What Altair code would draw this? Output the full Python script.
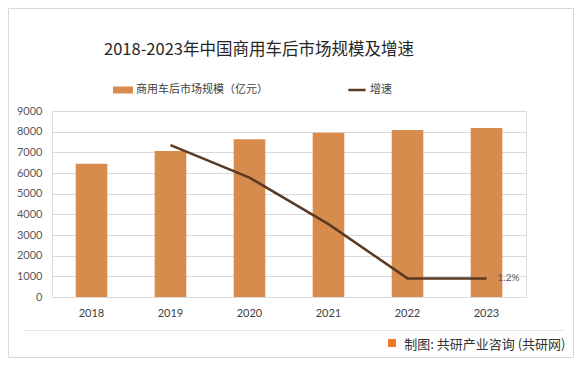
import altair as alt
import pandas as pd

years = ["2018", "2019", "2020", "2021", "2022", "2023"]
market = [6450, 7070, 7630, 7950, 8080, 8180]
growth = [None, 0.098, 0.077, 0.047, 0.012, 0.012]
growth_labels = ["", "", "", "", "", "1.2%"]
bar_name = "商用车后市场规模（亿元）"
line_name = "增速"
left_ticks = [0, 1000, 2000, 3000, 4000, 5000, 6000, 7000, 8000, 9000]
right_ticks = [0, 0.02, 0.04, 0.06, 0.08, 0.1, 0.12]

BAR_COLOR = "#D78B4D"
LINE_COLOR = "#5A3A22"
CJK = "Noto Sans CJK SC"
NUM = "Lato"

df = pd.DataFrame({
    "year": years,
    "market": market,
    "growth": growth,
    "label": growth_labels,
    "bar_series": [bar_name] * len(years),
    "line_series": [line_name] * len(years),
})

W, H = 474, 186
PAD_L, PAD_T = 44, 103
PAD_R = 566 - PAD_L - W
PAD_B = 350 - PAD_T - H

base = alt.Chart(df)

xenc = alt.X(
    "year:N",
    sort=years,
    scale=alt.Scale(paddingInner=0.6, paddingOuter=0.3),
    axis=alt.Axis(
        title="制图: 共研产业咨询 (共研网)",
        titleFont=CJK, titleFontSize=13, titleFontWeight="normal", titleColor="#333333",
        titleAnchor="end", titleAlign="right", titleX=513, titleY=47, titleBaseline="middle",
        labelAngle=0, labelFont=NUM, labelFontSize=11, labelColor="#404040",
        labelPadding=10, domain=False, ticks=False,
    ),
)

bars = base.mark_bar().encode(
    x=xenc,
    y=alt.Y(
        "market:Q",
        scale=alt.Scale(domain=[0, 9000], nice=False),
        axis=alt.Axis(
            title=None, values=left_ticks, format="d", labelFont=NUM, labelFontSize=11,
            labelColor="#595959", labelPadding=10, domain=False, ticks=False,
            grid=True, gridColor="#D9D9D9", gridWidth=1,
        ),
    ),
    color=alt.Color(
        "bar_series:N",
        scale=alt.Scale(domain=[bar_name], range=[BAR_COLOR]),
        legend=alt.Legend(
            title=None, orient="none", legendX=61, legendY=-31, padding=0,
            symbolType="M-1,-0.35L1,-0.35L1,0.35L-1,0.35Z", symbolSize=400,
            symbolStrokeWidth=0, symbolOpacity=1, labelOffset=3,
            labelFont=CJK, labelFontSize=11, labelColor="#404040",
        ),
    ),
)

line_y = alt.Y(
    "growth:Q",
    scale=alt.Scale(domain=[0, 0.12], nice=False),
    axis=alt.Axis(
        title=None, orient="right", values=right_ticks, format=".2~f",
        labelFont=NUM, labelFontSize=11, labelColor="#595959", labelPadding=11,
        domain=False, ticks=False, grid=False,
    ),
)

line = base.transform_filter("isValid(datum.growth)").mark_line(strokeWidth=2.5).encode(
    x=alt.X("year:N", sort=years),
    y=line_y,
    stroke=alt.Stroke(
        "line_series:N",
        scale=alt.Scale(domain=[line_name], range=[LINE_COLOR]),
        legend=alt.Legend(
            title=None, orient="none", legendX=295, legendY=-31, padding=0,
            symbolType="stroke", symbolSize=300, symbolStrokeWidth=2.5,
            labelOffset=3, labelFont=CJK, labelFontSize=11, labelColor="#404040",
        ),
    ),
)

labels = base.transform_filter("datum.label != ''").mark_text(
    align="left", baseline="middle", dx=11, fontSize=10, font=NUM, color="#595959"
).encode(
    x=alt.X("year:N", sort=years),
    y=alt.Y("growth:Q", scale=alt.Scale(domain=[0, 0.12], nice=False), axis=None),
    text="label:N",
)

one = alt.Chart(pd.DataFrame({"k": [0]}))
frame = one.mark_rect(fill=None, stroke="#D9D9D9", strokeWidth=1).encode(
    x=alt.value(-PAD_L + 0.5), x2=alt.value(W + PAD_R - 0.5),
    y=alt.value(-PAD_T + 0.5), y2=alt.value(H + PAD_B - 0.5),
)
sep = one.mark_rule(color="#E8E8E8", strokeWidth=1).encode(
    x=alt.value(-28), x2=alt.value(513), y=alt.value(219.5),
)
icon = one.mark_rect(color="#F07A2A").encode(
    x=alt.value(336), x2=alt.value(344), y=alt.value(228), y2=alt.value(236),
)

chart = alt.layer(bars, alt.layer(line, labels), frame, sep, icon).resolve_scale(
    y="independent"
).properties(
    width=W, height=H,
    autosize=alt.AutoSizeParams(type="none"),
    padding={"left": PAD_L, "top": PAD_T, "right": PAD_R, "bottom": PAD_B},
    title=alt.TitleParams(
        "2018-2023年中国商用车后市场规模及增速", font=CJK, fontSize=16.5,
        fontWeight="normal", color="#262626", anchor="middle", dx=-30, offset=-50,
    ),
).configure_view(stroke=None).configure(background="white")

chart.save("out.html", embed_options={"renderer": "svg", "actions": False})
